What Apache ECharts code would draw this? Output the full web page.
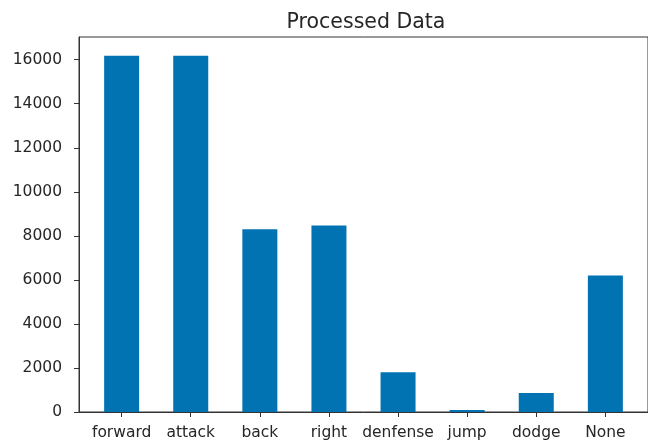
<!DOCTYPE html>
<html>
<head>
<meta charset="utf-8">
<script src="https://cdn.jsdelivr.net/npm/echarts@6/dist/echarts.min.js"></script>
<style>
html,body{margin:0;padding:0;background:#fff;}
#chart{width:648px;height:442px;}
</style>
</head>
<body>
<div id="chart"></div>
<script>
var categories = ['forward', 'attack', 'back', 'right', 'denfense', 'jump', 'dodge', 'None'];
var values = [16180, 16180, 8300, 8470, 1810, 90, 865, 6200];
var yTicks = [0, 2000, 4000, 6000, 8000, 10000, 12000, 14000, 16000];
var titleText = 'Processed Data';

var chart = echarts.init(document.getElementById('chart'));
var barData = values.map(function (v, i) { return [i, v]; });
var xIdx = categories.map(function (c, i) { return i; });
var textColor = '#262626';
var font = 'DejaVu Sans';

chart.setOption({
  animation: false,
  backgroundColor: '#fff',
  title: {
    text: titleText,
    left: 361,
    textAlign: 'center',
    top: 7,
    textStyle: { fontFamily: font, fontSize: 20.5, fontWeight: 'normal', color: textColor }
  },
  grid: {
    left: 79, top: 37, width: 574, bottom: 30,
    show: true, borderColor: '#333', borderWidth: 1, backgroundColor: 'transparent'
  },
  xAxis: {
    type: 'value',
    min: -0.617, max: 7.617,
    splitLine: { show: false },
    axisLine: { show: true, onZero: false, lineStyle: { color: '#333', width: 1 } },
    axisTick: { show: true, length: 5, customValues: xIdx, lineStyle: { color: '#333' } },
    axisLabel: {
      customValues: xIdx,
      margin: 13,
      fontFamily: font, fontSize: 15.5, color: textColor,
      formatter: function (v) { return categories[Math.round(v)]; }
    }
  },
  yAxis: {
    type: 'value',
    min: 0, max: 17030,
    splitLine: { show: false },
    axisLine: { show: true, onZero: false, lineStyle: { color: '#333', width: 1 } },
    axisTick: { show: true, length: 5, customValues: yTicks, lineStyle: { color: '#333' } },
    axisLabel: {
      customValues: yTicks,
      margin: 17,
      fontFamily: font, fontSize: 15.5, color: textColor,
      formatter: function (v) { return String(v); }
    }
  },
  series: [{
    type: 'bar',
    data: barData,
    barWidth: 35,
    itemStyle: { color: '#0173b2' }
  }]
});
</script>
</body>
</html>
